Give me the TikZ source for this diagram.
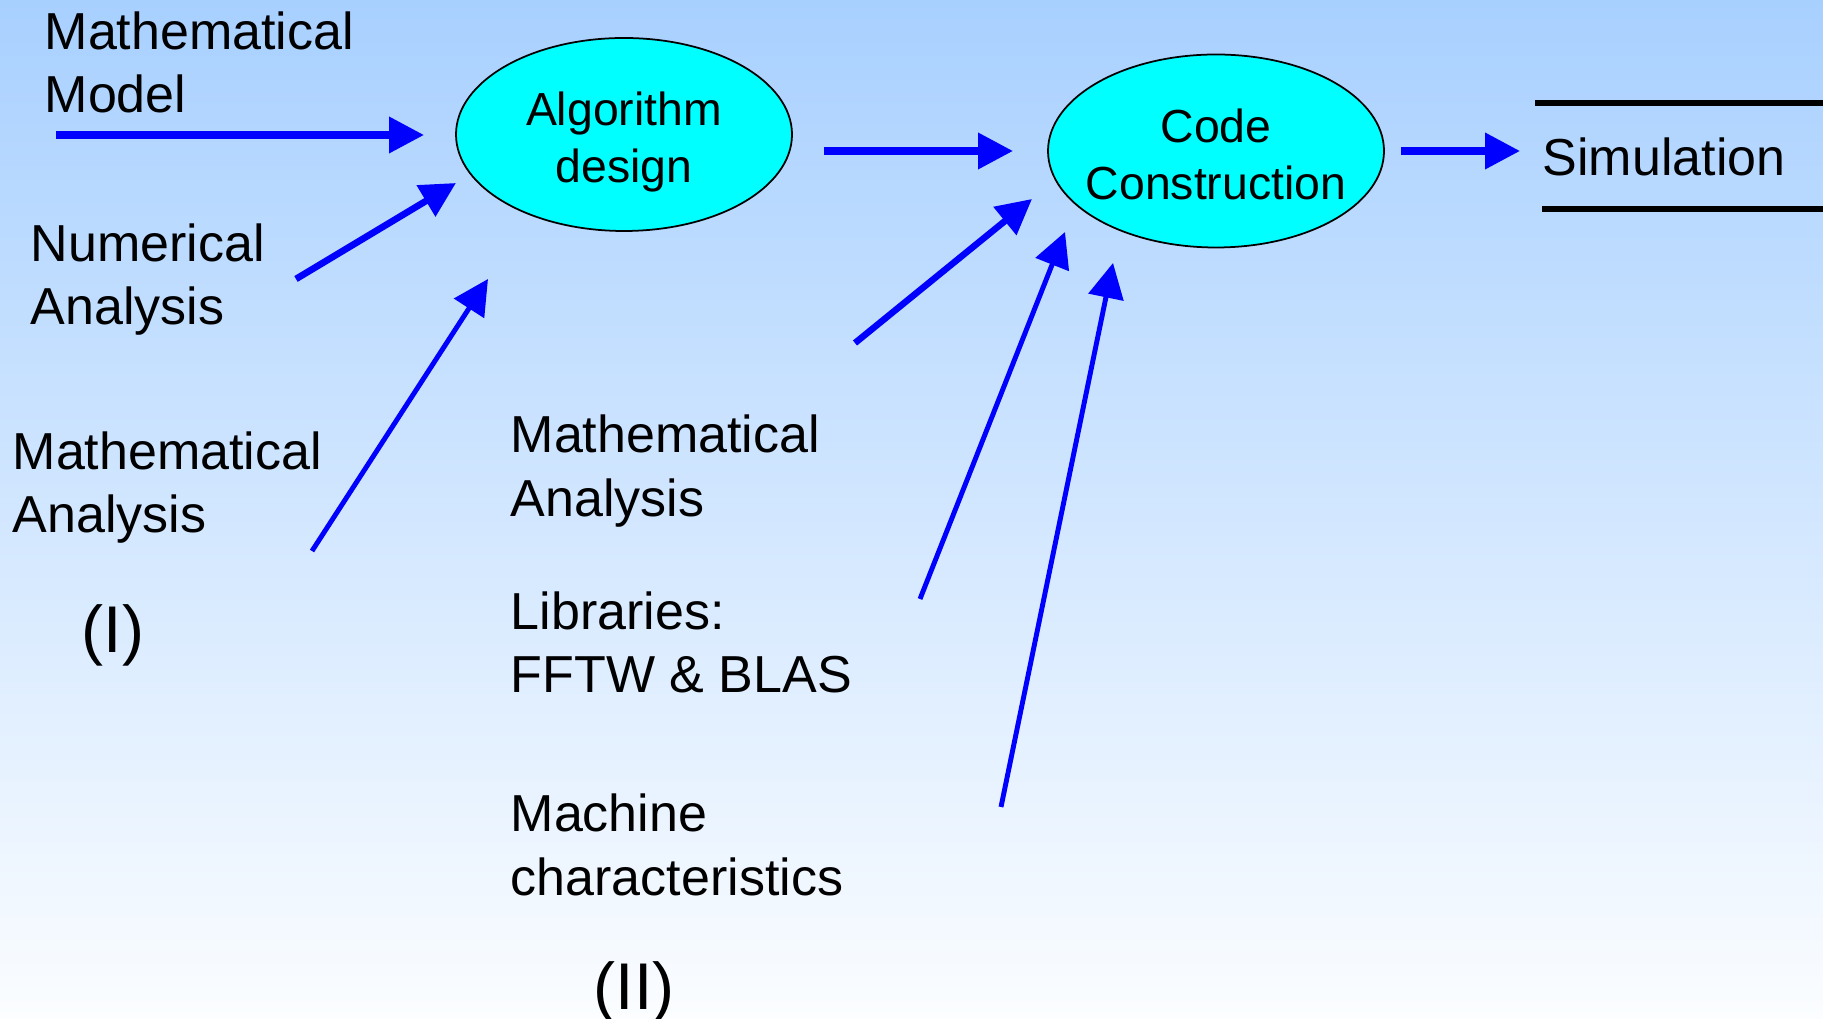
\documentclass[tikz,border=0pt]{standalone}
\usepackage{fontspec}
\setmainfont{Liberation Sans}
\usetikzlibrary{arrows.meta,shapes.geometric}
\definecolor{bgtop}{HTML}{A8D0FF}
\definecolor{bgmid}{HTML}{D6E7FF}
\definecolor{bgbot}{HTML}{FBFDFF}
\definecolor{arrowblue}{HTML}{0000FF}
\definecolor{procfill}{HTML}{00FFFF}
\newcommand{\topstrut}{\rule{0pt}{14.2pt}}
\newcommand{\botstrut}{\rule[-3pt]{0pt}{0pt}}
\begin{document}
\begin{tikzpicture}[x=0.1mm,y=-0.1mm,
  lbl/.style={font=\fontsize{14.8pt}{18.2pt}\selectfont, align=left, anchor=base west, inner sep=0pt},
  roman/.style={font=\fontsize{18.8pt}{22pt}\selectfont, anchor=base west, inner sep=0pt},
  proc/.style={ellipse, draw=black, line width=0.5pt, fill=procfill, minimum width=33.6mm, minimum height=19.3mm, inner xsep=-2mm, inner ysep=0pt, align=center, font=\fontsize{13.2pt}{16.2pt}\selectfont},
  flow/.style={draw=arrowblue, line width=2pt, -{Triangle[length=3.5mm,width=3.5mm]}},
  thinflow/.style={flow, line width=1.4pt},
  rule/.style={draw=black, line width=1.7pt}
]
\useasboundingbox (0,0) rectangle (1823,1019);
\shade[top color=bgtop, middle color=bgmid, bottom color=bgbot] (0,0) rectangle (1823,1019);

% process ellipses
\node[proc] (alg) at (624,134.5) {\topstrut Algorithm\\design\botstrut};
\node[proc] (code) at (1216,151) {\topstrut Code\\Construction\botstrut};

% labels (anchored at the baseline of their last line)
\node[lbl] (mm) at (44,113) {Mathematical\\Model};
\node[lbl] (na) at (30,325) {Numerical\\Analysis};
\node[lbl] (maone) at (12,533) {Mathematical\\Analysis};
\node[roman] (rone) at (81,653) {(I)};
\node[lbl] (matwo) at (510,516.5) {Mathematical\\Analysis};
\node[lbl] (lib) at (510,693) {Libraries:\\FFTW \& BLAS};
\node[lbl] (mach) at (510,895.5) {Machine\\characteristics};
\node[roman] (rtwo) at (593,1009) {(II)};
\node[lbl] (sim) at (1542,176) {Simulation};

% simulation store lines
\draw[rule] (1535,103) -- (1823,103);
\draw[rule] (1542,209) -- (1823,209);

% arrow end points
\coordinate (a1s) at (56,135);   \coordinate (a1e) at (424,135);
\coordinate (a2s) at (296,279);  \coordinate (a2e) at (456,183);
\coordinate (a3s) at (312,551);  \coordinate (a3e) at (488,279);
\coordinate (a4s) at (824,151);  \coordinate (a4e) at (1013,151);
\coordinate (a5s) at (1401,151); \coordinate (a5e) at (1520,151);
\coordinate (a6s) at (855,343);  \coordinate (a6e) at (1032,199);
\coordinate (a7s) at (920,599);  \coordinate (a7e) at (1065,232);
\coordinate (a8s) at (1001,807); \coordinate (a8e) at (1113,263);

\draw[flow] (a1s) -- (a1e);
\draw[flow, line width=1.9pt] (a2s) -- (a2e);
\draw[thinflow] (a3s) -- (a3e);
\draw[flow] (a4s) -- (a4e);
\draw[flow] (a5s) -- (a5e);
\draw[flow, line width=1.85pt] (a6s) -- (a6e);
\draw[thinflow] (a7s) -- (a7e);
\draw[thinflow] (a8s) -- (a8e);
\end{tikzpicture}
\end{document}
